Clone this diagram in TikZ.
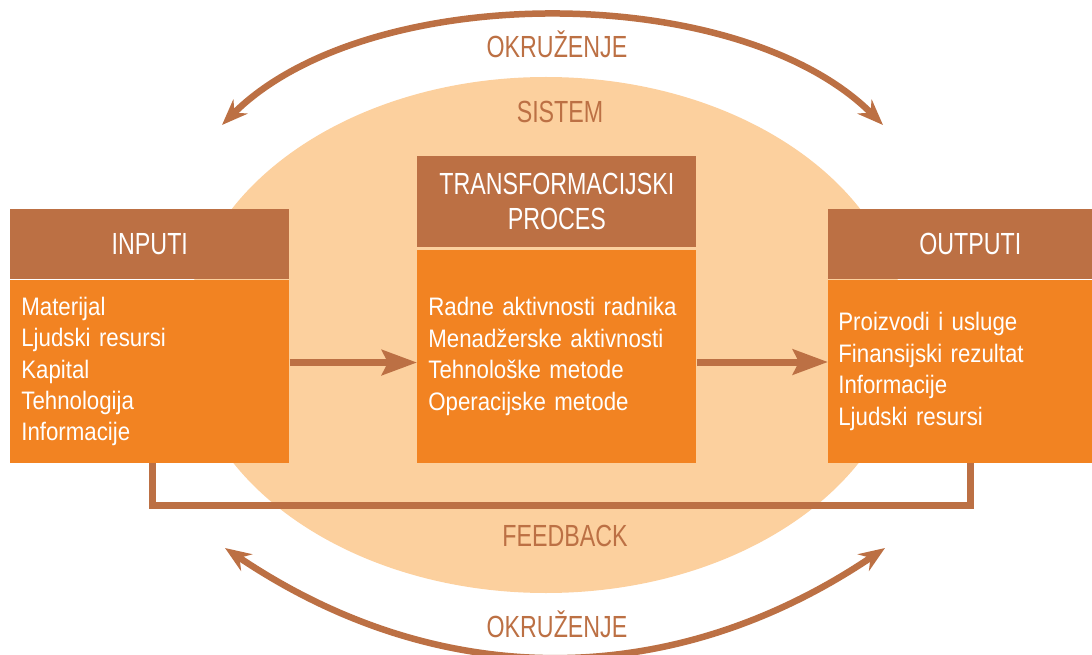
\documentclass[tikz,border=0pt]{standalone}
\usepackage{fontspec}
\setmainfont{Liberation Sans}
\newfontfamily\capsfont[FakeStretch=0.76]{Liberation Sans}
\newfontfamily\itemfont[FakeStretch=0.88]{Liberation Sans}
\usetikzlibrary{arrows.meta,positioning}
\definecolor{rust}{HTML}{BC7044}
\definecolor{tangerine}{HTML}{F28322}
\definecolor{peach}{HTML}{FCD09E}

\begin{document}
\begin{tikzpicture}[x=0.02cm, y=-0.02cm,
  head/.style={fill=rust, text=white, inner sep=0pt, anchor=north west, align=center,
    font=\capsfont\fontsize{17.4}{19.8}\selectfont},
  body/.style={fill=tangerine, text=white, inner xsep=0.22cm, inner ysep=0pt, align=left,
    font=\itemfont\fontsize{14.4}{17.9}\selectfont},
  tag/.style={text=rust, font=\capsfont\fontsize{17.4}{19.8}\selectfont},
  link/.style={draw=rust, line width=0.14cm},
  flow/.style={link, -{Stealth[length=0.7cm, width=0.5cm, inset=0.12cm]}},
  around/.style={draw=rust, line width=0.13cm, {Stealth[length=0.52cm, width=0.4cm]}-{Stealth[length=0.52cm, width=0.4cm]}}]
\useasboundingbox (0,0) rectangle (1092,655);

% system
\fill[peach] (546,335) ellipse [x radius=360, y radius=258];
\node[tag] (sys) at (560,112) {SISTEM};

% environment
\coordinate (envTL) at (222,125);
\coordinate (envTR) at (883,125);
\coordinate (envBL) at (225,548);
\coordinate (envBR) at (885,548);
\draw[around] (envTL) .. controls (367,-20) and (738,-20) .. (envTR);
\draw[around] (envBL) to[bend right=34] (envBR);
\node[tag] (envTop) at (557,44) {OKRUŽENJE};
\node[tag] (envBot) at (557,624) {OKRUŽENJE};

% inputs
\node[head, minimum width=5.58cm, minimum height=1.4cm] (inHead) at (10,209) {INPUTI};
\node[body, below=0pt of inHead, text width=5.14cm, minimum height=3.66cm] (inBody)
  {Materijal\\Ljudski resursi\\Kapital\\Tehnologija\\Informacije};

% process
\node[head, minimum width=5.58cm, minimum height=1.82cm] (procHead) at (417,156) {TRANSFORMACIJSKI\\PROCES};
\node[body, below=0.04cm of procHead, text width=5.14cm, minimum height=4.26cm] (procBody)
  {Radne aktivnosti radnika\\Menadžerske aktivnosti\\Tehnološke metode\\Operacijske metode};

% outputs (cut by the right edge)
\node[head, minimum width=5.68cm, minimum height=1.4cm] (outHead) at (828,209) {OUTPUTI};
\node[body, below=0pt of outHead, inner xsep=0.2cm, text width=5.28cm, minimum height=3.66cm] (outBody)
  {Proizvodi i usluge\\Finansijski rezultat\\Informacije\\Ljudski resursi};

% flows
\draw[flow] ([yshift=0.18cm]inBody.east) -- ([yshift=0.18cm]inBody.east -| procBody.west);
\draw[flow] ([yshift=-0.11cm]procBody.east) -- ([yshift=-0.11cm]procBody.east -| outBody.west);
\draw[link] ([xshift=0.05cm]inBody.south) -- ++(0,42) -| (outBody.south);
\node[tag] (fb) at (565,536) {FEEDBACK};
\end{tikzpicture}
\end{document}
